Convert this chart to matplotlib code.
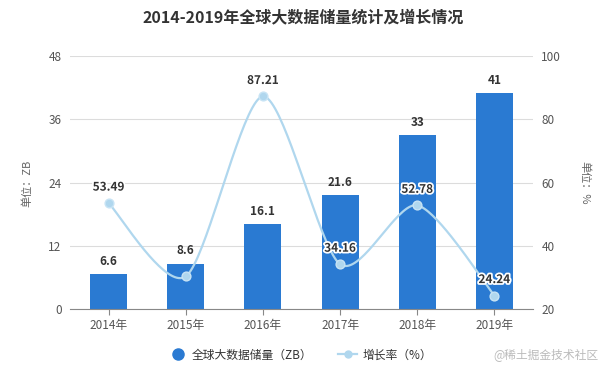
import numpy as np
import matplotlib
matplotlib.use("Agg")
import matplotlib.pyplot as plt
import matplotlib.patheffects as pe
from matplotlib.lines import Line2D

plt.rcParams['font.family'] = ['Noto Sans CJK SC', 'DejaVu Sans']

years = ['2014年', '2015年', '2016年', '2017年', '2018年', '2019年']
storage = [6.6, 8.6, 16.1, 21.6, 33, 41]
growth = [53.49, 30.30, 87.21, 34.16, 52.78, 24.24]
growth_labels = ['53.49', '', '87.21', '34.16', '52.78', '24.24']
left_ticks = [0, 12, 24, 36, 48]
right_ticks = [20, 40, 60, 80, 100]

BAR = '#2a7ad2'
LINE = '#b0d7ee'
GRID = '#dcdcdc'
TICK = '#555555'

fig = plt.figure(figsize=(6.06, 3.75), dpi=100)
ax = fig.add_axes([70/606, 1-309/375, (533-70)/606, (309-56)/375])
ax2 = ax.twinx()

x = np.arange(len(years))
ax.bar(x, storage, width=0.48, color=BAR, zorder=2)
for xi, v in zip(x, storage):
    ax.text(xi, v + 1.2, f'{v:g}', ha='center', va='bottom', fontsize=8.5,
            fontweight='bold', color='#333333', zorder=5)

ax.set_xlim(-0.5, len(years) - 0.5)
ax.set_ylim(0, 48)
ax.set_yticks(left_ticks)
ax.set_xticks(x)
ax.set_xticklabels(years)
ax.yaxis.grid(True, color=GRID, linewidth=0.8)
ax.set_axisbelow(True)
for s in ['top', 'right', 'left']:
    ax.spines[s].set_visible(False)
ax.spines['bottom'].set_color('#888888')
ax.tick_params(axis='y', length=0, colors=TICK, labelsize=8.5, pad=6)
ax.tick_params(axis='x', length=4, color='#888888', colors=TICK, labelsize=8.5, pad=3)

# smooth curve through the data points (cardinal spline, reduced tension)
def cardinal(px, py, tension=0.4, n=40):
    px = np.asarray(px, float); py = np.asarray(py, float)
    P = np.column_stack([px, py])
    P = np.vstack([P[0], P, P[-1]])
    out = []
    for i in range(1, len(P) - 2):
        p0, p1, p2, p3 = P[i-1], P[i], P[i+1], P[i+2]
        m1 = tension * (p2 - p0)
        m2 = tension * (p3 - p1)
        t = np.linspace(0, 1, n)[:, None]
        h00 = 2*t**3 - 3*t**2 + 1
        h10 = t**3 - 2*t**2 + t
        h01 = -2*t**3 + 3*t**2
        h11 = t**3 - t**2
        out.append(h00*p1 + h10*m1 + h01*p2 + h11*m2)
    return np.vstack(out)

curve = cardinal(x, growth)
ax2.plot(curve[:, 0], curve[:, 1], color=LINE, linewidth=1.6, zorder=3)
ax2.scatter(x, growth, s=40, color=LINE, edgecolor='#c8e4f5', linewidth=1, zorder=4)
for xi, v, lab in zip(x, growth, growth_labels):
    if lab:
        ax2.text(xi, v + 3, lab, ha='center', va='bottom', fontsize=8.5,
                 fontweight='bold', color='#333333', zorder=5,
                 path_effects=[pe.withStroke(linewidth=2.5, foreground='white')])
ax2.set_ylim(20, 100)
ax2.set_yticks(right_ticks)
for s in ['top', 'right', 'left', 'bottom']:
    ax2.spines[s].set_visible(False)
ax2.tick_params(axis='y', length=0, colors=TICK, labelsize=8.5, pad=6)

fig.text(27/606, 1-183/375, '单位：ZB', rotation=90, ha='center', va='center',
         fontsize=8, color='#666666')
fig.text(585/606, 1-183/375, '单位：%', rotation=-90, ha='center', va='center',
         fontsize=8, color='#666666')

fig.text(303/606, 1-17/375, '2014-2019年全球大数据储量统计及增长情况', ha='center',
         va='center', fontsize=11.5, fontweight='bold', color='#333333')

handles = [Line2D([0], [0], marker='o', linestyle='none', markersize=8,
                  markerfacecolor=BAR, markeredgecolor=BAR),
           Line2D([0], [0], marker='o', color=LINE, linewidth=1.6, markersize=5,
                  markerfacecolor=LINE, markeredgecolor=LINE)]
fig.legend(handles, ['全球大数据储量（ZB）', '增长率（%）'], loc='center',
           bbox_to_anchor=(300/606, 1-355/375), ncol=2, frameon=False,
           fontsize=8.5, handlelength=1.6, handletextpad=0.4, columnspacing=2.2,
           labelcolor='#333333')
fig.text(598/606, 1-355/375, '@稀土掘金技术社区', ha='right', va='center',
         fontsize=8.5, color='#bbbbbb')

fig.savefig('out.png', dpi=100, facecolor='white')
